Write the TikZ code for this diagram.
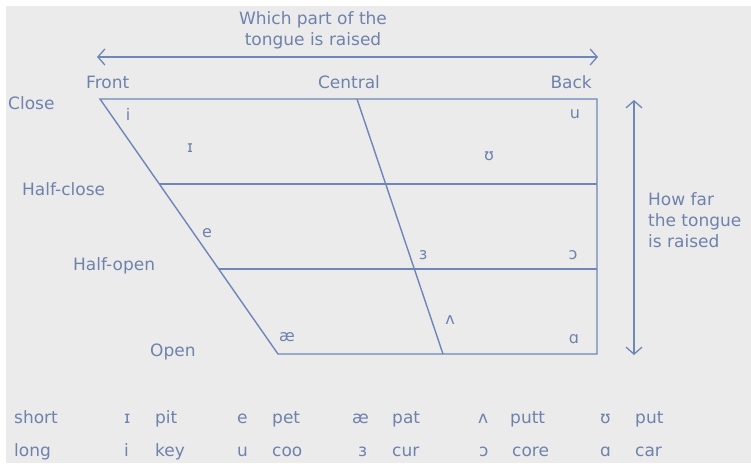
\documentclass[tikz,border=0pt]{standalone}
\usepackage{fontspec}
\setmainfont{DejaVu Sans}
\usepackage{tikz}
\usetikzlibrary{positioning, arrows.meta, calc}

\definecolor{chartline}{HTML}{6E86B8}
\definecolor{chartlabel}{HTML}{6F82AC}
\definecolor{chartbg}{HTML}{EBEBEB}

\begin{document}
\begin{tikzpicture}[
    x=1pt, y=-1pt,
    gridline/.style={draw=chartline, line width=1.4pt},
    axisline/.style={draw=chartline, line width=1.3pt, {Straight Barb[length=7pt,width=16pt]}-{Straight Barb[length=7pt,width=16pt]}},
    lbl/.style={text=chartlabel, inner sep=0pt, font=\fontsize{17}{21}\selectfont},
    vowel/.style={text=chartlabel, inner sep=0pt, font=\fontsize{16}{19}\selectfont}
]

% Hintergrund
\fill[white] (0,0) rectangle (751,463);
\fill[chartbg] (6,6) rectangle (751,463);
\useasboundingbox (0,0) rectangle (751,463);

% Ecken des Vokalvierecks
\coordinate (tl) at (100,99);
\coordinate (tr) at (597,99);
\coordinate (br) at (597,354);
\coordinate (bl) at (278,354);
\coordinate (hcl) at ($(tl)!1/3!(bl)$);
\coordinate (hol) at ($(tl)!2/3!(bl)$);
\coordinate (ct) at (357,99);
\coordinate (cb) at (443,354);

% Achsen
\coordinate (axl) at (97,57);
\coordinate (axr) at (598,57);
\coordinate (axt) at (634,100);
\coordinate (axb) at (634,355);

% Linien
\draw[gridline] (tl) -- (tr) -- (br) -- (bl) -- cycle;
\draw[gridline] (hcl) -- (hcl -| tr);
\draw[gridline] (hol) -- (hol -| tr);
\draw[gridline] (ct) -- (cb);
\draw[axisline] (axl) -- (axr);
\draw[axisline] (axt) -- (axb);

% Beschriftungen
\node[lbl, align=center, anchor=north] (which) at (313,11) {Which part of the\\tongue is raised};
\node[lbl, align=left, anchor=north west] (howfar) at (648,192) {How far\\the tongue\\is raised};
\node[lbl, anchor=base west] (front) at (86,88) {Front};
\node[lbl, anchor=base] (central) at (349,88) {Central};
\node[lbl, anchor=base east] (back) at (592,88) {Back};
\node[lbl, anchor=base west] (close) at (8,109) {Close};
\node[lbl, anchor=base west] (halfclose) at (22,195) {Half-close};
\node[lbl, anchor=base west] (halfopen) at (73,270) {Half-open};
\node[lbl, anchor=base west] (open) at (150,356) {Open};

% Vokale im Viereck
\node[vowel] (vi) at (128,114) {i};
\node[vowel] (vsi) at (190,148) {ɪ};
\node[vowel] (ve) at (207,233) {e};
\node[vowel] (vae) at (287,337) {æ};
\node[vowel] (vu) at (575,114) {u};
\node[vowel] (vsu) at (489,156) {ʊ};
\node[vowel] (ver) at (423,255) {ɜ};
\node[vowel] (vo) at (573,255) {ɔ};
\node[vowel] (vuh) at (450,320) {ʌ};
\node[vowel] (va) at (574,339) {ɑ};

% Tabelle unten
\node[lbl, anchor=base west] (short) at (14,423) {short};
\node[lbl, anchor=base west] (sa) at (124,423) {ɪ};
\node[lbl, anchor=base west] (swa) at (155,423) {pit};
\node[lbl, anchor=base west] (sb) at (237,423) {e};
\node[lbl, anchor=base west] (swb) at (272,423) {pet};
\node[lbl, anchor=base west] (sc) at (352,423) {æ};
\node[lbl, anchor=base west] (swc) at (392,423) {pat};
\node[lbl, anchor=base west] (sd) at (478,423) {ʌ};
\node[lbl, anchor=base west] (swd) at (510,423) {putt};
\node[lbl, anchor=base west] (se) at (600,423) {ʊ};
\node[lbl, anchor=base west] (swe) at (635,423) {put};
\node[lbl, anchor=base west] (long) at (14,456) {long};
\node[lbl, anchor=base west] (la) at (124,456) {i};
\node[lbl, anchor=base west] (lwa) at (155,456) {key};
\node[lbl, anchor=base west] (lb) at (237,456) {u};
\node[lbl, anchor=base west] (lwb) at (272,456) {coo};
\node[lbl, anchor=base west] (lc) at (358,456) {ɜ};
\node[lbl, anchor=base west] (lwc) at (392,456) {cur};
\node[lbl, anchor=base west] (ld) at (479,456) {ɔ};
\node[lbl, anchor=base west] (lwd) at (512,456) {core};
\node[lbl, anchor=base west] (le) at (600,456) {ɑ};
\node[lbl, anchor=base west] (lwe) at (635,456) {car};

\end{tikzpicture}
\end{document}
